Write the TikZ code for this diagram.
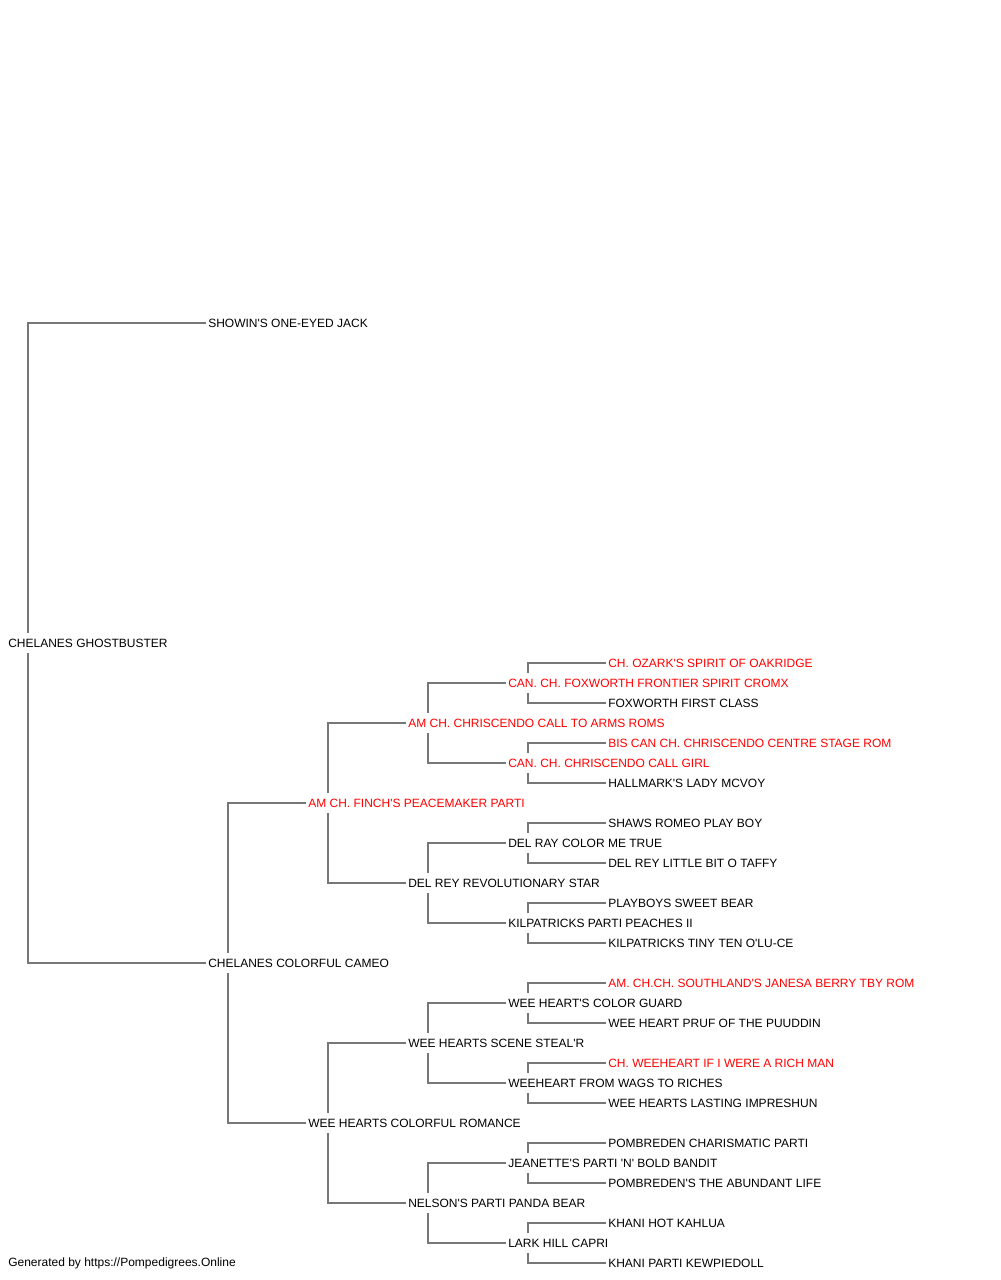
\documentclass[tikz,border=0pt]{standalone}
\usepackage{fontspec}
\setmainfont{Liberation Sans}[Ligatures=TeXOff]
\usetikzlibrary{backgrounds}
\definecolor{linegray}{RGB}{119,119,119}
\definecolor{champred}{RGB}{255,0,0}
\tikzset{
  dog/.style={anchor=west, fill=white, inner xsep=1.5pt, inner ysep=0pt, minimum height=15pt, font=\fontsize{9}{10}\selectfont},
  champ/.style={dog, text=champred},
  link/.style={linegray, line width=1.4pt}
}
\begin{document}
\begin{tikzpicture}[x=0.75pt,y=-0.75pt]
	\useasboundingbox (0,0) rectangle (1000,1280);
	% generation 0 and 1
	\node[dog] (dog) at (6,643) {CHELANES GHOSTBUSTER};
	\node[dog] (s) at (206,323) {SHOWIN'S ONE-EYED JACK};
	\node[dog] (d) at (206,963) {CHELANES COLORFUL CAMEO};
	% generation 2 and 3
	\node[champ] (ds) at (306,803) {AM CH. FINCH'S PEACEMAKER PARTI};
	\node[dog] (dd) at (306,1123) {WEE HEARTS COLORFUL ROMANCE};
	\node[champ] (dss) at (406,723) {AM CH. CHRISCENDO CALL TO ARMS ROMS};
	\node[dog] (dsd) at (406,883) {DEL REY REVOLUTIONARY STAR};
	\node[dog] (dds) at (406,1043) {WEE HEARTS SCENE STEAL'R};
	\node[dog] (ddd) at (406,1203) {NELSON'S PARTI PANDA BEAR};
	% generation 4
	\node[champ] (dsss) at (506,683) {CAN. CH. FOXWORTH FRONTIER SPIRIT CROMX};
	\node[champ] (dssd) at (506,763) {CAN. CH. CHRISCENDO CALL GIRL};
	\node[dog] (dsds) at (506,843) {DEL RAY COLOR ME TRUE};
	\node[dog] (dsdd) at (506,923) {KILPATRICKS PARTI PEACHES II};
	\node[dog] (ddss) at (506,1003) {WEE HEART'S COLOR GUARD};
	\node[dog] (ddsd) at (506,1083) {WEEHEART FROM WAGS TO RICHES};
	\node[dog] (ddds) at (506,1163) {JEANETTE'S PARTI 'N' BOLD BANDIT};
	\node[dog] (dddd) at (506,1243) {LARK HILL CAPRI};
	% generation 5
	\node[champ] (dssss) at (606,663) {CH. OZARK'S SPIRIT OF OAKRIDGE};
	\node[dog] (dsssd) at (606,703) {FOXWORTH FIRST CLASS};
	\node[champ] (dssds) at (606,743) {BIS CAN CH. CHRISCENDO CENTRE STAGE ROM};
	\node[dog] (dssdd) at (606,783) {HALLMARK'S LADY MCVOY};
	\node[dog] (dsdss) at (606,823) {SHAWS ROMEO PLAY BOY};
	\node[dog] (dsdsd) at (606,863) {DEL REY LITTLE BIT O TAFFY};
	\node[dog] (dsdds) at (606,903) {PLAYBOYS SWEET BEAR};
	\node[dog] (dsddd) at (606,943) {KILPATRICKS TINY TEN O'LU-CE};
	\node[champ] (ddsss) at (606,983) {AM. CH.CH. SOUTHLAND'S JANESA BERRY TBY ROM};
	\node[dog] (ddssd) at (606,1023) {WEE HEART PRUF OF THE PUUDDIN};
	\node[champ] (ddsds) at (606,1063) {CH. WEEHEART IF I WERE A RICH MAN};
	\node[dog] (ddsdd) at (606,1103) {WEE HEARTS LASTING IMPRESHUN};
	\node[dog] (dddss) at (606,1143) {POMBREDEN CHARISMATIC PARTI};
	\node[dog] (dddsd) at (606,1183) {POMBREDEN'S THE ABUNDANT LIFE};
	\node[dog] (dddds) at (606,1223) {KHANI HOT KAHLUA};
	\node[dog] (ddddd) at (606,1263) {KHANI PARTI KEWPIEDOLL};
	\node[dog] (credit) at (6,1263) {Generated by https://Pompedigrees.Online};
	\begin{scope}[on background layer]
		\draw[link] ([xshift=16.5pt]dog.west) |- (s.west);
		\draw[link] ([xshift=16.5pt]dog.west) |- (d.west);
		\foreach \p in {d,ds,dd,dss,dsd,dds,ddd,dsss,dssd,dsds,dsdd,ddss,ddsd,ddds,dddd}{
			\draw[link] ([xshift=16.5pt]\p.west) |- (\p s.west);
			\draw[link] ([xshift=16.5pt]\p.west) |- (\p d.west);
		}
	\end{scope}
\end{tikzpicture}
\end{document}
